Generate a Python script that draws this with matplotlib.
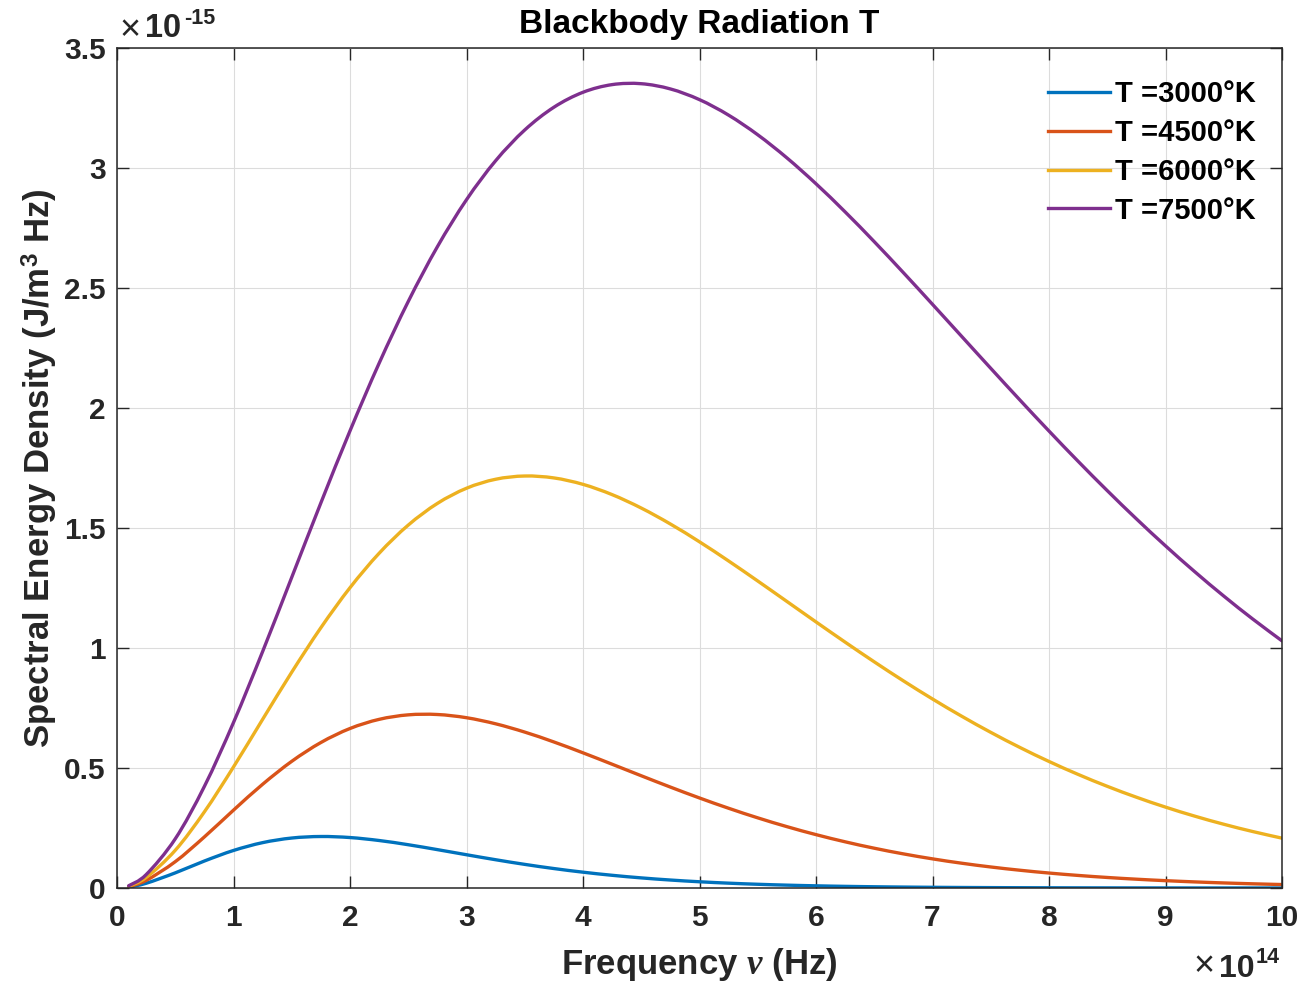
import numpy as np
import matplotlib
matplotlib.use("Agg")
import matplotlib.pyplot as plt
from matplotlib.path import Path
from matplotlib.patches import PathPatch
from matplotlib.lines import Line2D

# Frequency (units of 1e14 Hz)
freq = [0.1, 0.25, 0.5, 0.75, 1.0, 1.25, 1.5, 1.75, 2.0, 2.25, 2.5, 2.75, 3.0,
        3.25, 3.5, 3.75, 4.0, 4.25, 4.5, 4.75, 5.0, 5.25, 5.5, 5.75, 6.0, 6.25,
        6.5, 6.75, 7.0, 7.25, 7.5, 7.75, 8.0, 8.25, 8.5, 8.75, 9.0, 9.25, 9.5,
        9.75, 10.0]

# Spectral energy density (units of 1e-15 J/m^3 Hz)
u_3000 = [0.00356, 0.01964, 0.06305, 0.11242, 0.15640, 0.18901, 0.20820, 0.21458,
          0.21023, 0.19788, 0.18030, 0.15989, 0.13858, 0.11779, 0.09844, 0.08107,
          0.06590, 0.05296, 0.04213, 0.03321, 0.02596, 0.02014, 0.01552, 0.01189,
          0.00906, 0.00686, 0.00517, 0.00388, 0.00290, 0.00216, 0.00161, 0.00119,
          0.000875, 0.000644, 0.000472, 0.000345, 0.000252, 0.000183, 0.000133,
          0.0000964, 0.0000697]
u_4500 = [0.00549, 0.03161, 0.10967, 0.21281, 0.32441, 0.43223, 0.52786, 0.60615,
          0.66458, 0.70268, 0.72146, 0.72289, 0.70951, 0.68415, 0.64960, 0.60850,
          0.56319, 0.51571, 0.46771, 0.42051, 0.37513, 0.33224, 0.29234, 0.25570,
          0.22241, 0.19248, 0.16579, 0.14218, 0.12144, 0.10333, 0.08761, 0.07404,
          0.06237, 0.05239, 0.04389, 0.03667, 0.03056, 0.02542, 0.02109, 0.01746,
          0.01443]
u_6000 = [0.00742, 0.04362, 0.15712, 0.31724, 0.50444, 0.70272, 0.89934, 1.08454,
          1.25124, 1.39469, 1.51211, 1.60240, 1.66565, 1.70309, 1.71662, 1.70864,
          1.68184, 1.63905, 1.58310, 1.51670, 1.44240, 1.36252, 1.27911, 1.19399,
          1.10869, 1.02446, 0.94237, 0.86319, 0.78757, 0.71593, 0.64857, 0.58565,
          0.52723, 0.47328, 0.42370, 0.37835, 0.33704, 0.29955, 0.26566, 0.23512,
          0.20768]
u_7500 = [0.00935, 0.05567, 0.20491, 0.42333, 0.68959, 0.98524, 1.29459, 1.60465,
          1.90475, 2.18657, 2.44379, 2.67190, 2.86788, 3.03024, 3.15848, 3.25315,
          3.31554, 3.34745, 3.35123, 3.32941, 3.28476, 3.22013, 3.13834, 3.04221,
          2.93429, 2.81711, 2.69297, 2.56396, 2.43192, 2.29859, 2.16534, 2.03345,
          1.90402, 1.77788, 1.65574, 1.53816, 1.42558, 1.31829, 1.21649, 1.12028,
          1.02970]

labels = ["T =3000°K", "T =4500°K", "T =6000°K", "T =7500°K"]
colors = ["#0072BD", "#D95319", "#EDB120", "#7E2F8E"]
series = [u_3000, u_4500, u_6000, u_7500]

xticks = [0, 1, 2, 3, 4, 5, 6, 7, 8, 9, 10]
yticks = [0, 0.5, 1, 1.5, 2, 2.5, 3, 3.5]
yticklabels = ["0", "0.5", "1", "1.5", "2", "2.5", "3", "3.5"]

plt.rcParams["font.family"] = ["Liberation Sans", "DejaVu Sans"]
plt.rcParams["font.weight"] = "bold"
plt.rcParams["mathtext.fontset"] = "custom"
plt.rcParams["mathtext.rm"] = "Liberation Sans:bold"
plt.rcParams["mathtext.bf"] = "Liberation Sans:bold"
plt.rcParams["mathtext.it"] = "Liberation Serif:italic"

W, H = 1302, 984
fig = plt.figure(figsize=(W / 100, H / 100), dpi=100)
ax = fig.add_axes([117 / W, 1 - 888 / H, (1282 - 117) / W, (888 - 48) / H])

dark = "#262626"
LW = 2.4


def smooth_path(xs, ys):
    """Cubic Bezier path passing through every data point (Catmull-Rom)."""
    p = np.column_stack([xs, ys]).astype(float)
    n = len(p)
    verts = [p[0]]
    codes = [Path.MOVETO]
    for i in range(n - 1):
        p0 = p[i - 1] if i > 0 else p[i]
        p1 = p[i]
        p2 = p[i + 1]
        p3 = p[i + 2] if i + 2 < n else p[i + 1]
        c1 = p1 + (p2 - p0) / 6.0
        c2 = p2 - (p3 - p1) / 6.0
        verts += [c1, c2, p2]
        codes += [Path.CURVE4] * 3
    return Path(verts, codes)


handles = []
for y, lab, c in zip(series, labels, colors):
    patch = PathPatch(smooth_path(freq, y), facecolor="none", edgecolor=c,
                      lw=LW, capstyle="round", joinstyle="round",
                      transform=ax.transData)
    ax.add_patch(patch)
    handles.append(Line2D([], [], color=c, lw=LW, label=lab))

ax.set_xlim(0, 10)
ax.set_ylim(0, 3.5)
ax.set_xticks(xticks)
ax.set_xticklabels([str(t) for t in xticks])
ax.set_yticks(yticks)
ax.set_yticklabels(yticklabels)
ax.grid(True, color="#dcdcdc", lw=0.8)
ax.set_axisbelow(True)
for s in ax.spines.values():
    s.set_color(dark)
    s.set_linewidth(1.1)
ax.tick_params(direction="in", length=8.5, width=1.0, color=dark,
               labelcolor=dark, labelsize=21.5, top=True, right=True)
ax.tick_params(axis="x", pad=11.5)
ax.tick_params(axis="y", pad=8)
for t in ax.get_xticklabels() + ax.get_yticklabels():
    t.set_fontweight("bold")

ax.set_title("Blackbody Radiation T", fontsize=24, fontweight="bold",
             color="black", pad=10.5)
ax.set_xlabel(r"Frequency $\nu$ (Hz)", fontsize=25, fontweight="bold",
              color=dark, labelpad=10)
ax.set_ylabel(r"Spectral Energy Density (J/m$^3$ Hz)", fontsize=25,
              fontweight="bold", color=dark, labelpad=3)


def px(x, y):
    return x / W, 1 - y / H


# exponent labels (x10^-15 top-left, x10^14 bottom-right)
fig.text(*px(119, 40), "×", fontsize=26, fontweight="normal",
         color=dark, ha="left", va="baseline")
fig.text(*px(145, 37), "10", fontsize=23.5, fontweight="bold",
         color=dark, ha="left", va="baseline")
fig.text(*px(184, 24), "-15", fontsize=15.5, fontweight="bold",
         color=dark, ha="left", va="baseline")
fig.text(*px(1194, 976), "×", fontsize=26, fontweight="normal",
         color=dark, ha="left", va="baseline")
fig.text(*px(1219, 977), "10", fontsize=23, fontweight="bold",
         color=dark, ha="left", va="baseline")
fig.text(*px(1256, 963), "14", fontsize=15.5, fontweight="bold",
         color=dark, ha="left", va="baseline")

leg = ax.legend(handles=handles, loc="upper right", frameon=False,
                bbox_to_anchor=(1.0, 1.0 - 6 / 840), fontsize=21,
                handlelength=2.12, handletextpad=0.17, labelspacing=0.37)
for t in leg.get_texts():
    t.set_fontweight("bold")
    t.set_color("black")

fig.savefig("out.png", dpi=100)
